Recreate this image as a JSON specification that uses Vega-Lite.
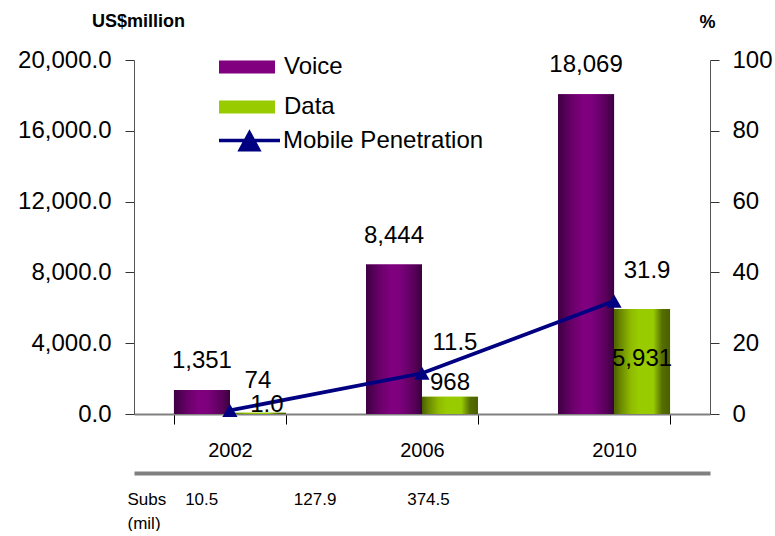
{
  "$schema": "https://vega.github.io/schema/vega-lite/v6.json",
  "width": 576,
  "height": 354,
  "padding": {"left": 17, "top": 12, "right": 0, "bottom": 0},
  "background": "white",
  "config": {
    "font": "Liberation Sans",
    "view": {"stroke": null},
    "axis": {"grid": false, "labelColor": "black", "titleColor": "black", "labelFont": "Liberation Sans", "titleFont": "Liberation Sans"},
    "legend": {"labelFont": "Liberation Sans", "labelColor": "black", "labelLimit": 0},
    "text": {"font": "Liberation Sans", "color": "black"}
  },
  "datasets": {
    "rev": [
      {"year": "2002", "series": "Voice", "value": 1351},
      {"year": "2002", "series": "Data", "value": 74},
      {"year": "2006", "series": "Voice", "value": 8444},
      {"year": "2006", "series": "Data", "value": 968},
      {"year": "2010", "series": "Voice", "value": 18069},
      {"year": "2010", "series": "Data", "value": 5931}
    ],
    "pen": [
      {"year": "2002", "pen": 1.0},
      {"year": "2006", "pen": 11.5},
      {"year": "2010", "pen": 31.9}
    ]
  },
  "layer": [
    {
      "data": {"name": "rev"},
      "encoding": {
        "x": {
          "field": "year", "type": "nominal",
          "scale": {"domain": ["2002", "2006", "2010"], "paddingInner": 0.417, "paddingOuter": 0.208},
          "axis": {
            "title": ["Subs\u00a0\u00a0\u00a0\u00a010.5\u00a0\u00a0\u00a0\u00a0\u00a0\u00a0\u00a0\u00a0\u00a0\u00a0\u00a0\u00a0\u00a0\u00a0\u00a0\u00a0127.9\u00a0\u00a0\u00a0\u00a0\u00a0\u00a0\u00a0\u00a0\u00a0\u00a0\u00a0\u00a0\u00a0\u00a0\u00a0374.5", "(mil)"],
            "titleFontSize": 17, "titleFontWeight": "normal",
            "titleX": -7, "titleY": 77, "titleAlign": "left", "titleBaseline": "top", "titleLineHeight": 24, "titleAngle": 0,
            "labelFontSize": 20, "labelPadding": 16, "labelAngle": 0,
            "tickBand": "extent", "tickSize": 10, "tickColor": "#000000", "tickWidth": 1,
            "domainColor": "#808080", "domainWidth": 2
          }
        },
        "xOffset": {"field": "series", "type": "nominal", "scale": {"domain": ["Voice", "Data"], "paddingInner": 0, "paddingOuter": 0}},
        "y": {
          "field": "value", "type": "quantitative",
          "scale": {"domain": [0, 20000], "nice": false},
          "axis": {
            "values": [0, 4000, 8000, 12000, 16000, 20000], "format": ",.1f",
            "labelFontSize": 24, "tickSize": 9, "labelPadding": 14,
            "domainColor": "#555555", "tickColor": "#333333",
            "title": "US$million", "titleAngle": 0, "titleX": 4, "titleY": -39,
            "titleAlign": "center", "titleBaseline": "middle", "titleFontSize": 18, "titleFontWeight": "bold"
          }
        }
      },
      "layer": [
        {
          "mark": {"type": "bar"},
          "encoding": {
            "fill": {
              "field": "series", "type": "nominal",
              "scale": {"domain": ["Voice", "Data"], "range": ["#800080", "#99cc00"]},
              "legend": {
                "orient": "none", "legendX": 85, "legendY": -21, "title": null,
                "symbolType": "M-1,-0.23H1V0.23H-1Z", "symbolSize": 3136, "symbolStrokeWidth": 0,
                "labelFontSize": 24, "labelOffset": 9, "rowPadding": -19,
                "encode": {
                  "symbols": {
                    "update": {
                      "fill": [
                        {"test": "datum.value === 'Voice'", "value": {"gradient": "linear", "x1": 0, "y1": 0, "x2": 1, "y2": 0, "stops": [
                          {"offset": 0, "color": "#3d0042"}, {"offset": 0.25, "color": "#6a006a"}, {"offset": 0.45, "color": "#800080"},
                          {"offset": 0.6, "color": "#7d007d"}, {"offset": 0.85, "color": "#5a005c"}, {"offset": 1, "color": "#3a003e"}]}},
                        {"value": {"gradient": "linear", "x1": 0, "y1": 0, "x2": 1, "y2": 0, "stops": [
                          {"offset": 0, "color": "#4a6000"}, {"offset": 0.12, "color": "#6b8a00"}, {"offset": 0.3, "color": "#8fbb00"},
                          {"offset": 0.45, "color": "#99cc00"}, {"offset": 0.7, "color": "#99cc00"}, {"offset": 0.8, "color": "#6f8f00"},
                          {"offset": 0.86, "color": "#556e00"}, {"offset": 1, "color": "#4a6000"}]}}
                      ]
                    }
                  }
                }
              }
            }
          }
        },
        {
          "transform": [{"filter": "datum.series === 'Voice'"}],
          "mark": {"type": "bar", "color": {"gradient": "linear", "x1": 0, "y1": 0, "x2": 1, "y2": 0, "stops": [
            {"offset": 0, "color": "#3d0042"}, {"offset": 0.25, "color": "#6a006a"}, {"offset": 0.45, "color": "#800080"},
            {"offset": 0.6, "color": "#7d007d"}, {"offset": 0.85, "color": "#5a005c"}, {"offset": 1, "color": "#3a003e"}]}}
        },
        {
          "transform": [{"filter": "datum.series === 'Data'"}],
          "mark": {"type": "bar", "color": {"gradient": "linear", "x1": 0, "y1": 0, "x2": 1, "y2": 0, "stops": [
            {"offset": 0, "color": "#4a6000"}, {"offset": 0.12, "color": "#6b8a00"}, {"offset": 0.3, "color": "#8fbb00"},
            {"offset": 0.45, "color": "#99cc00"}, {"offset": 0.7, "color": "#99cc00"}, {"offset": 0.8, "color": "#6f8f00"},
            {"offset": 0.86, "color": "#556e00"}, {"offset": 1, "color": "#4a6000"}]}}
        },
        {
          "transform": [{"filter": "datum.series === 'Voice'"}],
          "mark": {"type": "text", "fontSize": 24, "dy": -29, "align": "center", "baseline": "middle"},
          "encoding": {"text": {"field": "value", "type": "quantitative", "format": ",d"}}
        },
        {
          "transform": [{"filter": "datum.series === 'Data' && datum.year === '2002'"}],
          "mark": {"type": "text", "fontSize": 24, "dy": -32, "align": "center", "baseline": "middle"},
          "encoding": {"text": {"field": "value", "type": "quantitative", "format": ",d"}}
        },
        {
          "transform": [{"filter": "datum.series === 'Data' && datum.year === '2006'"}],
          "mark": {"type": "text", "fontSize": 24, "dy": -14, "align": "center", "baseline": "middle"},
          "encoding": {"text": {"field": "value", "type": "quantitative", "format": ",d"}}
        },
        {
          "transform": [{"filter": "datum.series === 'Data' && datum.year === '2010'"}],
          "mark": {"type": "text", "fontSize": 24, "dy": 50, "align": "center", "baseline": "middle"},
          "encoding": {"text": {"field": "value", "type": "quantitative", "format": ",d"}}
        }
      ]
    },
    {
      "data": {"name": "pen"},
      "encoding": {
        "x": {
          "field": "year", "type": "nominal",
          "axis": {"orient": "bottom", "offset": 59, "domainColor": "#808080", "domainWidth": 4, "labels": false, "ticks": false, "title": null}
        },
        "y": {
          "field": "pen", "type": "quantitative",
          "scale": {"domain": [0, 100], "nice": false},
          "axis": {
            "orient": "right", "values": [0, 20, 40, 60, 80, 100], "format": "d",
            "labelFontSize": 24, "tickSize": 9, "labelPadding": 13,
            "domainColor": "#555555", "tickColor": "#333333",
            "title": "%", "titleAngle": 0, "titleX": -3, "titleY": -38,
            "titleAlign": "center", "titleBaseline": "middle", "titleFontSize": 18, "titleFontWeight": "bold"
          }
        }
      },
      "layer": [
        {
          "mark": {"type": "line", "strokeWidth": 3.8},
          "encoding": {
            "stroke": {
              "datum": "Mobile Penetration",
              "scale": {"range": ["#000080"]},
              "legend": {
                "orient": "none", "legendX": 83, "legendY": 48, "title": null,
                "symbolType": "M-1,0H1M-0.3,0.3L0,-0.25L0.3,0.3Z", "symbolSize": 3721, "symbolStrokeWidth": 3.5,
                "labelFontSize": 24, "labelOffset": 1, "labelLimit": 0,
                "encode": {"symbols": {"update": {"fill": {"value": "#000080"}, "stroke": {"value": "#000080"}}}}
              }
            }
          }
        },
        {
          "mark": {"type": "point", "shape": "triangle-up", "size": 230, "filled": true, "color": "#000080", "opacity": 1}
        },
        {
          "transform": [{"filter": "datum.year === '2002'"}],
          "mark": {"type": "text", "fontSize": 24, "dx": 37, "dy": -5, "align": "center", "baseline": "middle"},
          "encoding": {"text": {"field": "pen", "type": "quantitative", "format": ".1f"}}
        },
        {
          "transform": [{"filter": "datum.year !== '2002'"}],
          "mark": {"type": "text", "fontSize": 24, "dx": 33, "dy": -30, "align": "center", "baseline": "middle"},
          "encoding": {"text": {"field": "pen", "type": "quantitative", "format": ".1f"}}
        }
      ]
    }
  ],
  "resolve": {"scale": {"y": "independent"}, "axis": {"x": "independent"}}
}
